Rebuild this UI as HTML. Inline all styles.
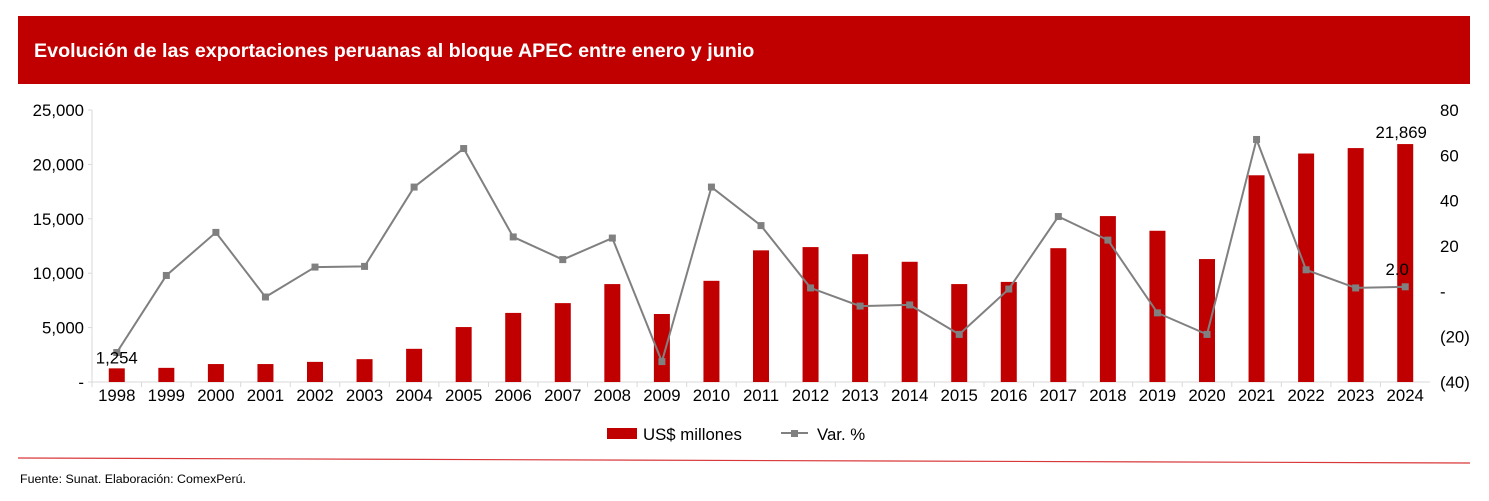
<!DOCTYPE html>
<html><head><meta charset="utf-8"><style>
body{margin:0;width:1489px;height:496px;background:#fff;font-family:"Liberation Sans",Arial,sans-serif;overflow:hidden}
</style></head><body>
<svg width="1489" height="496" xmlns="http://www.w3.org/2000/svg">
<rect x="18" y="16" width="1452" height="68" fill="#c00000"/>
<text x="34" y="57" fill="#fff" font-size="19.7" font-weight="bold">Evolución de las exportaciones peruanas al bloque APEC entre enero y junio</text>
<g id="plot"></g>
<line x1="18" y1="458" x2="1470" y2="463" stroke="#d9383a" stroke-width="1.2"/>
<text x="20" y="483" font-size="12.4" fill="#000">Fuente: Sunat. Elaboración: ComexPerú.</text>
</svg>
<script>
const years=['1998','1999','2000','2001','2002','2003','2004','2005','2006','2007','2008','2009','2010','2011','2012','2013','2014','2015','2016','2017','2018','2019','2020','2021','2022','2023','2024'];
const exports=[1254,1300,1650,1650,1850,2100,3050,5050,6350,7250,9000,6250,9300,12100,12400,11750,11050,9000,9200,12300,15250,13900,11300,19000,21000,21500,21869];
const variation=[-27,7,26,-2.5,10.7,11,46,63,24,14,23.5,-31,46,29,1.5,-6.5,-6,-19,1,33,22.6,-9.5,-19,67,9.5,1.5,2.0];
const leftTicks=[0,5000,10000,15000,20000,25000];
const leftTickLabels=['-','5,000','10,000','15,000','20,000','25,000'];
const rightTicks=[-40,-20,0,20,40,60,80];
const rightTickLabels=['(40)','(20)','-','20','40','60','80'];
const NS='http://www.w3.org/2000/svg';
const g=document.getElementById('plot');
const x0=92,x1=1430,yb=382,yt=110;
const FS=16.8;
const step=(x1-x0)/years.length;
const xc=i=>x0+step*(i+0.5);
const yL=v=>yb-(v/25000)*(yb-yt);
const yR=v=>yb-((v+40)/120)*(yb-yt);
function el(t,a,txt){const e=document.createElementNS(NS,t);for(const k in a)e.setAttribute(k,a[k]);if(txt!=null)e.textContent=txt;g.appendChild(e);return e;}
let ax=el('line',{x1:x0,y1:yt,x2:x0,y2:yb,stroke:'#d9d9d9'});

let bx=el('line',{x1:x0,y1:yb,x2:x1,y2:yb,stroke:'#d9d9d9'});

leftTicks.forEach((v,i)=>{const t=el('text',{x:84,y:yL(v)+6,'text-anchor':'end','font-size':FS},leftTickLabels[i]);

el('line',{x1:x0-4,y1:yL(v),x2:x0,y2:yL(v),stroke:'#d9d9d9'});});
rightTicks.forEach((v,i)=>{const t=el('text',{x:1440,y:yR(v)+6,'font-size':FS},rightTickLabels[i]);
});
years.forEach((y,i)=>{
el('line',{x1:x0+step*i,y1:yb,x2:x0+step*i,y2:yb+5,stroke:'#d9d9d9'});
const r=el('rect',{x:xc(i)-8,y:yL(exports[i]),width:16,height:yb-yL(exports[i]),fill:'#c00000'});

const t=el('text',{x:xc(i),y:401,'text-anchor':'middle','font-size':FS},y);
});
const pl=el('polyline',{points:variation.map((v,i)=>xc(i)+','+yR(v)).join(' '),fill:'none',stroke:'#808080','stroke-width':2});

variation.forEach((v,i)=>{const m=el('rect',{x:xc(i)-3.5,y:yR(v)-3.5,width:7,height:7,fill:'#808080'});
});
let a=el('text',{x:xc(0),y:yL(exports[0])-5,'text-anchor':'middle','font-size':FS},exports[0].toLocaleString('en-US'));

let b=el('text',{x:xc(26)-4,y:yL(exports[26])-6,'text-anchor':'middle','font-size':FS},exports[26].toLocaleString('en-US'));

let c=el('text',{x:xc(26)-8,y:yR(variation[26])-12,'text-anchor':'middle','font-size':FS},variation[26].toFixed(1));

let l1=el('rect',{x:607,y:428,width:30,height:11,fill:'#c00000'});

let l1t=el('text',{x:643,y:440,'font-size':FS},'US$ millones');

el('line',{x1:781,y1:433,x2:808,y2:433,stroke:'#808080','stroke-width':2});
let l2=el('rect',{x:791,y:430,width:7,height:7,fill:'#808080'});

let l2t=el('text',{x:817,y:440,'font-size':FS},'Var. %');

</script>
</body></html>
